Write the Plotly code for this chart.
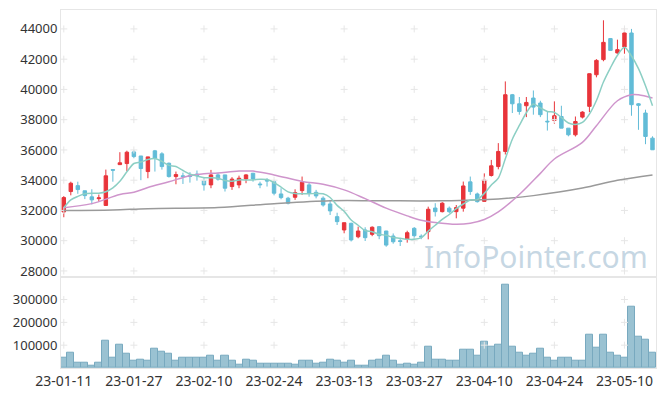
import plotly.graph_objects as go
from plotly.subplots import make_subplots
import pandas as pd

dates = ["23-01-11","23-01-12","23-01-13","23-01-16","23-01-17","23-01-18","23-01-19","23-01-20",
         "23-01-25","23-01-26","23-01-27","23-01-30","23-01-31",
         "23-02-01","23-02-02","23-02-03","23-02-06","23-02-07","23-02-08","23-02-09","23-02-10",
         "23-02-13","23-02-14","23-02-15","23-02-16","23-02-17","23-02-20","23-02-21","23-02-22",
         "23-02-23","23-02-24","23-02-27","23-02-28",
         "23-03-02","23-03-03","23-03-06","23-03-07","23-03-08","23-03-09","23-03-10","23-03-13",
         "23-03-14","23-03-15","23-03-16","23-03-17","23-03-20","23-03-21","23-03-22","23-03-23",
         "23-03-24","23-03-27","23-03-28","23-03-29","23-03-30","23-03-31",
         "23-04-03","23-04-04","23-04-05","23-04-06","23-04-07","23-04-10","23-04-11","23-04-12",
         "23-04-13","23-04-14","23-04-17","23-04-18","23-04-19","23-04-20","23-04-21","23-04-24",
         "23-04-25","23-04-26","23-04-27","23-04-28",
         "23-05-02","23-05-03","23-05-04","23-05-08","23-05-09","23-05-10","23-05-11","23-05-12",
         "23-05-15","23-05-16"]

open_ = [31900,33250,33640,33300,32900,32780,32330,34700,35030,35100,35870,35600,34570,35940,35740,
         35120,34240,34290,34330,34400,33950,33690,34350,34350,33580,33690,34080,34460,33750,34000,
         33900,33090,32810,32870,33310,33690,33200,32810,32430,31590,30710,31150,30260,30710,30420,
         30930,30640,30310,30000,30110,30820,30300,30600,32160,31920,32150,31920,32150,33890,33090,
         32600,34310,34900,35900,39650,39050,38920,39430,39100,37900,37950,38210,37440,37000,38170,
         38880,40970,41970,43360,42410,42810,43730,39050,38440,36780]
high = [32950,33900,33900,33300,33400,33050,34700,34700,35850,35950,36000,35600,35550,36000,35850,
        35170,34570,34500,34530,34640,34200,34680,34470,34350,34200,34300,34400,34480,33900,34130,
        34000,33470,32900,33400,34240,33840,33360,32930,32700,31850,31190,31190,30930,30890,30950,
        30960,30650,30480,30160,30660,30900,30420,32250,32480,32550,32260,32360,33910,34240,33180,
        34450,35340,36450,40530,39700,39500,39500,39930,39250,38540,39210,38920,37450,38210,38560,
        41050,42000,44570,43400,43290,44070,44000,39100,38660,36900]
low = [31550,33000,33100,32750,32400,32580,32330,33900,35000,34600,35450,34000,34130,34570,34700,
       34170,33730,33750,33840,33970,33310,33470,33970,33250,33360,33470,33800,33900,33470,33580,
       33000,32740,32400,32700,33030,32910,32800,32250,31700,31040,30490,29950,30160,29980,30300,
       30100,29600,29800,29650,29870,30100,30100,30090,31600,31870,31830,31480,31920,33030,32520,
       32580,34240,34720,35700,38440,38330,38170,38330,38170,37280,37730,37440,36900,36890,38080,
       38500,40800,41860,42550,42360,42360,38260,37330,36380,36000]
close = [32850,33800,33380,32980,32700,32830,34290,34660,35150,35850,35560,34770,35540,35450,34900,
         34240,34370,34240,34240,34300,33690,34350,34070,33470,34070,34130,34350,34080,33700,33950,
         33140,32850,32480,33180,33860,33140,32960,32360,31970,31260,31190,30050,30640,30200,30890,
         30330,29710,29930,29950,30530,30330,30260,32080,31920,32480,31920,32190,33620,33250,32580,
         34000,34950,35900,39650,39050,38540,39140,38830,38330,37860,38260,37440,37000,37880,38500,
         41040,41920,43110,42580,42630,43730,38990,38950,36890,36010]
volume = [47000,65000,25000,25000,12000,25000,118000,47000,100000,61000,34000,38000,34000,83000,70000,
          61000,34000,43000,47000,43000,43000,52000,30000,56000,30000,16000,38000,30000,21000,21000,
          21000,21000,21000,16000,30000,30000,21000,25000,38000,30000,25000,34000,12000,12000,34000,
          38000,52000,34000,16000,21000,16000,25000,92000,38000,38000,30000,30000,79000,79000,52000,
          114000,92000,100000,363000,92000,65000,56000,61000,83000,47000,34000,43000,43000,34000,34000,
          145000,87000,145000,65000,52000,43000,270000,136000,123000,65000]

# closes before the first visible day (needed for the 5-day average)
prior_closes = [31200, 32230, 32130, 32490]

# longer moving averages at selected days
ma20_idx = [0,4,8,10,12,15,18,20,22,25,27,30,34,37,40,43,46,49,51,53,56,58,60,62,65,68,70,74,76,79,81,82,84]
ma20_val = [32180,32450,33050,33200,33520,33900,34300,34420,34480,34600,34600,34350,33920,33730,33360,
            32780,32150,31640,31350,31200,31080,31150,31400,31900,33050,34450,35400,36500,37600,39250,
            39650,39650,39430]
ma_long_idx = [0,7,12,22,30,38,45,54,62,67,74,79,84]
ma_long_val = [32000,32030,32120,32190,32450,32640,32640,32640,32760,32980,33480,34000,34350]

ma5 = pd.Series(prior_closes + close).rolling(5).mean().iloc[len(prior_closes):].tolist()

price_ticks = list(range(28000, 44001, 2000))
vol_ticks = [100000, 200000, 300000]
xtick_idx = list(range(0, len(dates), 10))

RED = "#e8343a"
BLUE = "#62bcd7"
GRID = "#e6e6e6"

fig = make_subplots(rows=2, cols=1, shared_xaxes=True, vertical_spacing=0,
                    row_heights=[0.745, 0.255])

# plus-shaped grid markers
fig.add_trace(go.Scatter(
    x=[dates[i] for i in xtick_idx for _ in price_ticks],
    y=[v for _ in xtick_idx for v in price_ticks],
    mode="markers", marker=dict(symbol="cross-thin", size=5, line=dict(color=GRID, width=1)),
    hoverinfo="skip", showlegend=False), row=1, col=1)
fig.add_trace(go.Scatter(
    x=[dates[i] for i in xtick_idx for _ in vol_ticks],
    y=[v for _ in xtick_idx for v in vol_ticks],
    mode="markers", marker=dict(symbol="cross-thin", size=5, line=dict(color=GRID, width=1)),
    hoverinfo="skip", showlegend=False), row=2, col=1)

fig.add_trace(go.Scatter(x=[dates[i] for i in ma_long_idx], y=ma_long_val, mode="lines",
                         line=dict(color="#9a9a9a", width=1.5, shape="spline", smoothing=1.0),
                         showlegend=False), row=1, col=1)
fig.add_trace(go.Scatter(x=[dates[i] for i in ma20_idx], y=ma20_val, mode="lines",
                         line=dict(color="#cf95cc", width=1.5, shape="spline", smoothing=1.0),
                         showlegend=False), row=1, col=1)
fig.add_trace(go.Scatter(x=dates, y=ma5, mode="lines",
                         line=dict(color="#8ccfc4", width=1.5, shape="spline", smoothing=0.8),
                         showlegend=False), row=1, col=1)

fig.add_trace(go.Candlestick(
    x=dates, open=open_, high=high, low=low, close=close,
    increasing=dict(line=dict(color=RED, width=1), fillcolor=RED),
    decreasing=dict(line=dict(color=BLUE, width=1), fillcolor=BLUE),
    whiskerwidth=0, showlegend=False), row=1, col=1)

fig.add_trace(go.Bar(x=dates, y=volume,
                     marker=dict(color="#9ac2d2", line=dict(color="#78a9bf", width=1)),
                     showlegend=False), row=2, col=1)

axis_common = dict(showgrid=False, zeroline=False, showline=True, linecolor=GRID, linewidth=1,
                   mirror=True, ticks="", automargin=False)
fig.update_xaxes(type="category", categoryorder="array", categoryarray=dates,
                 range=[-0.4, 84.5], tickmode="array",
                 tickvals=[dates[i] for i in xtick_idx], ticktext=[dates[i] for i in xtick_idx],
                 tickangle=0, **axis_common)
fig.update_xaxes(showticklabels=False, rangeslider_visible=False, row=1, col=1)
fig.update_xaxes(showticklabels=True, tickfont=dict(size=14, color="#333333"), row=2, col=1)
fig.update_yaxes(range=[27620, 45250], tickvals=price_ticks, tickformat="d",
                 tickfont=dict(size=13, color="#333333"), **axis_common, row=1, col=1)
fig.update_yaxes(range=[0, 400000], tickvals=vol_ticks, tickformat="d",
                 tickfont=dict(size=13, color="#333333"), **axis_common, row=2, col=1)

fig.add_annotation(text="InfoPointer.com", xref="paper", yref="paper", x=0.99, y=0.312,
                   xanchor="right", yanchor="middle", showarrow=False,
                   font=dict(family="Noto Sans", size=30, color="rgba(180,202,218,0.75)"))

fig.update_layout(width=665, height=396, margin=dict(l=61, r=9, t=10, b=28),
                  paper_bgcolor="white", plot_bgcolor="white", bargap=0,
                  font=dict(family="Noto Sans", color="#333333"), showlegend=False)

fig.write_html("out.html", config={"displayModeBar": False},
               post_script="document.body.style.margin='0';")
